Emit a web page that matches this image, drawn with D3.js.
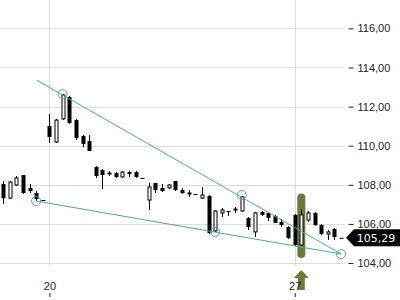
<!DOCTYPE html>
<html>
<head>
<meta charset="utf-8">
<script src="https://cdn.jsdelivr.net/npm/d3@7"></script>
<style>
  body { margin: 0; background: #fff; }
  #chart { width: 400px; height: 300px; }
</style>
</head>
<body>
<div id="chart"></div>
<script>
(function(){
// Data
const opens  = [108.04,107.32,107.99,108.50,107.84,107.58,107.22,111.01,110.19,111.37,112.49,111.31,110.50,110.24,108.91,108.76,108.55,108.60,108.40,108.65,108.65,108.35,107.22,108.09,107.84,107.84,108.19,107.73,107.53,107.53,107.32,107.43,105.64,106.56,106.66,106.71,106.66,106.30,105.59,106.61,106.56,106.40,106.10,105.84,106.46,104.92,106.20,106.56,105.94,105.48,105.74,105.29];
const highs  = [108.19,108.19,108.45,108.50,108.04,107.68,107.22,111.62,111.37,112.64,112.54,111.37,110.55,110.55,108.96,108.81,108.71,108.65,108.71,108.71,108.71,108.35,108.09,108.09,108.04,108.04,108.19,107.84,107.73,107.53,107.89,107.48,106.71,106.81,106.66,106.86,107.43,106.35,106.61,106.66,106.61,106.46,106.25,105.89,106.51,106.76,106.66,106.61,105.99,105.69,105.79,105.29];
const lows   = [107.02,107.27,107.94,107.53,107.58,107.17,107.22,110.14,110.14,111.31,111.11,110.29,109.93,109.73,108.35,107.79,108.45,108.35,108.35,108.40,108.35,108.30,106.71,107.58,107.63,107.79,107.68,107.53,107.38,107.48,107.27,105.48,105.59,106.35,106.40,106.56,106.61,105.69,105.33,106.40,106.15,106.05,105.84,105.23,104.87,104.87,106.10,105.89,105.43,105.18,105.18,105.29];
const closes = [107.32,108.14,108.35,107.58,107.68,107.27,107.22,110.45,111.31,112.59,111.16,110.39,110.09,109.73,108.45,108.50,108.60,108.40,108.65,108.55,108.40,108.30,107.89,107.73,107.68,107.99,107.73,107.58,107.58,107.48,107.48,105.53,106.66,106.71,106.61,106.76,107.38,105.84,106.56,106.46,106.30,106.05,105.94,105.28,104.92,106.46,106.56,105.94,105.48,105.59,105.33,105.29];

const yTicks = [104, 106, 108, 110, 112, 114, 116];
const xTickIndex = [7, 44];
const xTickLabels = ["20", "27"];

// trend lines: [candle index, price]
const upperLine = [[5.1, 113.35], [51, 104.46]];
const lowerLine = [[5, 107.17], [51, 104.46]];
const markers = [[5, 107.17], [9, 112.64], [32, 105.59], [36, 107.48], [51, 104.46]];

const highlightIndex = 45;
const highlightRange = [104.25, 107.55];
const lastPrice = 105.29;

// --- D3 setup ---
const width = 400, height = 300;
const svg = d3.select("#chart").append("svg")
    .attr("width", width)
    .attr("height", height)
    .style("font-family", "'DejaVu Sans', sans-serif");

const x = d3.scaleLinear().domain([0, opens.length - 1]).range([3, 341.1]);
const y = d3.scaleLinear().domain([104, 116]).range([263, 28.4]);
const fmt = d3.formatLocale({decimal: ",", thousands: ".", grouping: [3], currency: ["", ""]}).format(".2f");
const px = v => Math.round(v) + 0.5;

const teal = "#5c9fa8";
const olive = "#6b7c3a";

// grid
svg.append("g").selectAll("line")
    .data(yTicks)
    .join("line")
    .attr("x1", 0).attr("x2", 345)
    .attr("y1", d => px(y(d))).attr("y2", d => px(y(d)))
    .attr("stroke", "#dcdcdc");

svg.append("g").selectAll("line")
    .data(xTickIndex)
    .join("line")
    .attr("x1", d => px(x(d))).attr("x2", d => px(x(d)))
    .attr("y1", 0).attr("y2", 266)
    .attr("stroke", "#dcdcdc");

// highlight pill
const hx = x(highlightIndex);
svg.append("rect")
    .attr("x", hx - 4).attr("width", 8)
    .attr("y", y(highlightRange[1]))
    .attr("height", y(highlightRange[0]) - y(highlightRange[1]))
    .attr("rx", 4)
    .attr("fill", olive);

// arrow below
svg.append("path")
    .attr("d", `M${hx},270 L${hx + 7.5},278 L${hx + 3.5},278 L${hx + 3.5},290 L${hx - 3.5},290 L${hx - 3.5},278 L${hx - 7.5},278 Z`)
    .attr("fill", olive);

// candles
const up = i => closes[i] > opens[i];
const candles = svg.append("g").selectAll("g")
    .data(d3.range(opens.length))
    .join("g");

candles.append("line")
    .attr("x1", i => px(x(i))).attr("x2", i => px(x(i)))
    .attr("y1", i => y(highs[i])).attr("y2", i => y(lows[i]))
    .attr("stroke", "#000");

candles.append("rect")
    .attr("x", i => up(i) ? Math.round(x(i)) - 1 : Math.round(x(i)) - 1.5)
    .attr("y", i => y(Math.max(opens[i], closes[i])))
    .attr("width", i => up(i) ? 3 : 4)
    .attr("height", i => Math.max(1, Math.abs(y(opens[i]) - y(closes[i]))))
    .attr("fill", i => up(i) ? "#fff" : "#000")
    .attr("stroke", i => up(i) ? "#000" : "none");

// trend lines
const line = d3.line().x(d => x(d[0])).y(d => y(d[1]));
svg.append("path").attr("d", line(upperLine)).attr("stroke", teal).attr("fill", "none");
svg.append("path").attr("d", line(lowerLine)).attr("stroke", teal).attr("fill", "none");

svg.append("g").selectAll("circle")
    .data(markers)
    .join("circle")
    .attr("cx", d => x(d[0]))
    .attr("cy", d => y(d[1]))
    .attr("r", 4.5)
    .attr("fill", "none")
    .attr("stroke", teal);

// y axis (right)
const yAxis = svg.append("g")
    .attr("transform", "translate(348.5,0)")
    .call(d3.axisRight(y).tickValues(yTicks).tickFormat(fmt).tickSize(5).tickPadding(4));
yAxis.select(".domain").remove();
yAxis.selectAll("text").style("font-size", "11px").style("fill", "#222");
yAxis.selectAll("line").attr("stroke", "#222");

// x axis (labels above ticks)
const xAxis = svg.append("g")
    .attr("transform", "translate(0,297)")
    .call(d3.axisTop(x).tickValues(xTickIndex).tickFormat((d, k) => xTickLabels[k]).tickSize(4).tickPadding(3));
xAxis.select(".domain").remove();
xAxis.selectAll("text").style("font-size", "11px").style("fill", "#222");
xAxis.selectAll("line").attr("stroke", "#222");

// last price label
const ly = y(lastPrice);
svg.append("path")
    .attr("d", `M346,${ly} L354,${ly - 8.5} L400,${ly - 8.5} L400,${ly + 8.5} L354,${ly + 8.5} Z`)
    .attr("fill", "#000");
svg.append("text")
    .attr("x", 376).attr("y", ly)
    .attr("dy", "0.35em")
    .attr("text-anchor", "middle")
    .style("font-size", "11px")
    .style("fill", "#fff")
    .text(fmt(lastPrice));
})();
</script>
</body>
</html>
